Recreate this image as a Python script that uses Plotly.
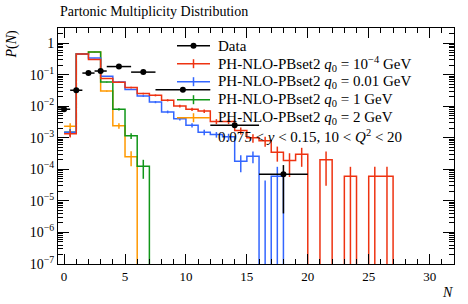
import plotly.graph_objects as go

# ---------------- data ----------------
mc_edges = list(range(0, 33))  # bin edges 0..32

red_vals = [1.35e-3, 0.45, 0.30, 0.075, 0.057, 0.039, 0.025, 0.022, 0.0154, 0.0101,
            0.0080, 0.0070, 0.0033, 0.0033, 0.0017, 1.0e-3, 8.0e-4, 3.5e-4, 1.9e-4, 3.0e-4,
            0, 2.0e-4, 0, 6e-5, 0, 6e-5, 6e-5, 0, 0, 0, 0, 0]
red_err = [0.25, 0.01, 0.01, 0.03, 0.04, 0.05, 0.06, 0.07, 0.08, 0.1,
           0.12, 0.13, 0.18, 0.18, 0.25, 0.3, 0.35, 0.5, 0.7, 0.6,
           0, 0.85, 0, 1.0, 0, 1.0, 1.0, 0, 0, 0, 0, 0]

blue_vals = [1.5e-3, 0.45, 0.335, 0.088, 0.058, 0.034, 0.021, 0.0135, 0.0066, 0.0040,
             0.0025, 0.0015, 1.26e-3, 1.07e-3, 1.8e-4, 2.6e-4, -2e-5, 6e-5, 0, 0,
             0, 0, 0, 0, 0, 0, 0, 0, 0, 0, 0, 0]
blue_err = [0.25, 0.01, 0.01, 0.03, 0.04, 0.05, 0.06, 0.08, 0.1, 0.12,
            0.15, 0.2, 0.2, 0.25, 0.55, 0.4, 3.2, 1.0, 0, 0,
            0, 0, 0, 0, 0, 0, 0, 0, 0, 0, 0, 0]

green_vals = [1.5e-3, 0.45, 0.52, 0.058, 0.008, 1.15e-3, 1.25e-4] + [0] * 25
green_err = [0.25, 0.01, 0.01, 0.03, 0.08, 0.2, 0.6] + [0] * 25

orange_vals = [2.3e-3, 0.46, 0.52, 0.030, 2.4e-3, 2.5e-4] + [0] * 26
orange_err = [0.25, 0.01, 0.01, 0.04, 0.2, 0.5] + [0] * 26

data_x = [0, 1, 2, 3, 4.5, 6.5, 9.75, 14, 18]
data_xerr = [0.5, 0.5, 0.5, 0.5, 1.0, 1.0, 2.25, 2.0, 2.0]
data_y = [8.0e-3, 0.032, 0.112, 0.13, 0.18, 0.12, 0.033, 0.0025, 7.0e-5]
data_yerr = [4e-4, 1.5e-3, 4e-3, 5e-3, 6e-3, 5e-3, 2e-3, 3e-4, 6.6e-5]

labels = ["Data",
          "PH-NLO-PBset2 <i>q</i><sub>0</sub> = 10<sup>−4</sup> GeV",
          "PH-NLO-PBset2 <i>q</i><sub>0</sub> = 0.01 GeV",
          "PH-NLO-PBset2 <i>q</i><sub>0</sub> = 1 GeV",
          "PH-NLO-PBset2 <i>q</i><sub>0</sub> = 2 GeV"]
cut_label = "0.075 &lt; <i>y</i> &lt; 0.15, 10 &lt; <i>Q</i><sup>2</sup> &lt; 20"
title_text = "Partonic Multiplicity Distribution"

colors = ["#EE3311", "#3366FF", "#109618", "#FF9900"]
FONT = "Liberation Serif"
TINY = 1e-12

W, H = 468, 304
ML, MR, MT, MB = 58, 14, 28, 40

fig = go.Figure()

series = [(red_vals, red_err), (blue_vals, blue_err), (green_vals, green_err), (orange_vals, orange_err)]
for idx in [3, 2, 1, 0]:
    vals, errs = series[idx]
    c = colors[idx]
    yv = [v if v > 0 else TINY for v in vals]
    ys = yv + [yv[-1]]
    fig.add_trace(go.Scatter(x=mc_edges, y=ys, mode="lines", line=dict(color=c, width=1.5, shape="hv"),
                             showlegend=False, hoverinfo="skip"))
    ex, ey = [], []
    for i, (v, e) in enumerate(zip(vals, errs)):
        if e <= 0:
            continue
        cx = (mc_edges[i] + mc_edges[i + 1]) / 2
        a = abs(v) * e
        lo = v - a if v > 0 else v
        hi = v + a
        ex += [cx, cx, None]
        ey += [lo if lo > 0 else TINY, hi, None]
    fig.add_trace(go.Scatter(x=ex, y=ey, mode="lines", line=dict(color=c, width=1.5),
                             showlegend=False, hoverinfo="skip"))

fig.add_trace(go.Scatter(x=data_x, y=data_y, mode="markers",
                         marker=dict(color="black", size=6),
                         error_x=dict(type="data", array=data_xerr, color="black", thickness=1.5, width=0),
                         error_y=dict(type="data", array=data_yerr, color="black", thickness=1.5, width=0),
                         showlegend=False, hoverinfo="skip"))

ytv = [10.0 ** k for k in range(-7, 1)]
ytt = ["10<sup>−%d</sup>" % (-k) if k < 0 else "1" for k in range(-7, 1)]
yminor = [m * 10.0 ** k for k in range(-7, 1) for m in range(2, 10)]

fig.update_layout(
    template="none",
    width=W, height=H,
    margin=dict(l=ML, r=MR, t=MT, b=MB, autoexpand=False),
    paper_bgcolor="white", plot_bgcolor="white",
    font=dict(family=FONT, size=13, color="black"),
    showlegend=False,
    xaxis=dict(range=[-0.5, 32], showline=True, linecolor="black", linewidth=1, mirror="ticks",
               ticks="inside", ticklen=10, tickcolor="black", tickwidth=1, automargin=False,
               tickvals=[0, 5, 10, 15, 20, 25, 30], showgrid=False, zeroline=False,
               tickfont=dict(family=FONT, size=13),
               minor=dict(ticks="inside", ticklen=5, dtick=1, tick0=0, tickcolor="black", showgrid=False)),
    yaxis=dict(type="log", range=[-7, 0.477], showline=True, linecolor="black", linewidth=1, mirror="ticks",
               ticks="inside", ticklen=11, tickcolor="black", tickwidth=1, automargin=False,
               tickvals=ytv, ticktext=ytt, showgrid=False, zeroline=False,
               tickfont=dict(family=FONT, size=14),
               minor=dict(ticks="inside", ticklen=5, tickvals=yminor, tickcolor="black", showgrid=False)),
)

def px2paper_x(px):
    return (px - ML) / (W - ML - MR)

def px2paper_y(py):
    return 1 - (py - MT) / (H - MT - MB)

fig.add_annotation(text=title_text, xref="paper", yref="paper", x=0, y=px2paper_y(12),
                   xanchor="left", yanchor="middle", showarrow=False,
                   font=dict(family=FONT, size=14))
fig.add_annotation(text="<i>P</i>(<i>N</i>)", xref="paper", yref="paper", x=px2paper_x(11), y=1,
                   xanchor="center", yanchor="top", textangle=-90, showarrow=False,
                   font=dict(family=FONT, size=14))
fig.add_annotation(text="<i>N</i>", xref="paper", yref="paper", x=px2paper_x(447), y=px2paper_y(292),
                   xanchor="center", yanchor="middle", showarrow=False,
                   font=dict(family=FONT, size=14))

row_y = [45.7, 63.7, 81.7, 99.7, 117.7]
lx0, lx1, tx = 177, 210, 216
leg_colors = ["black"] + colors
for i, (lab, col) in enumerate(zip(labels, leg_colors)):
    yy = px2paper_y(row_y[i])
    fig.add_shape(type="line", xref="paper", yref="paper", x0=px2paper_x(lx0), x1=px2paper_x(lx1),
                  y0=yy, y1=yy, line=dict(color=col, width=1.5))
    xm = px2paper_x((lx0 + lx1) / 2)
    if i == 0:
        r = 3
        fig.add_shape(type="circle", xref="paper", yref="paper",
                      x0=px2paper_x((lx0 + lx1) / 2 - r), x1=px2paper_x((lx0 + lx1) / 2 + r),
                      y0=px2paper_y(row_y[i] + r), y1=px2paper_y(row_y[i] - r),
                      fillcolor="black", line=dict(color="black", width=0))
    else:
        fig.add_shape(type="line", xref="paper", yref="paper", x0=xm, x1=xm,
                      y0=px2paper_y(row_y[i] - 4.5), y1=px2paper_y(row_y[i] + 4.5),
                      line=dict(color=col, width=1.5))
    fig.add_annotation(text=lab, xref="paper", yref="paper", x=px2paper_x(tx), y=yy,
                       xanchor="left", yanchor="middle", showarrow=False,
                       font=dict(family=FONT, size=15))
fig.add_annotation(text=cut_label, xref="paper", yref="paper", x=px2paper_x(tx), y=px2paper_y(136),
                   xanchor="left", yanchor="middle", showarrow=False,
                   font=dict(family=FONT, size=15))

fig.write_html("out.html", config={"displayModeBar": False},
               post_script="document.body.style.margin='0px';document.body.style.padding='0px';")
